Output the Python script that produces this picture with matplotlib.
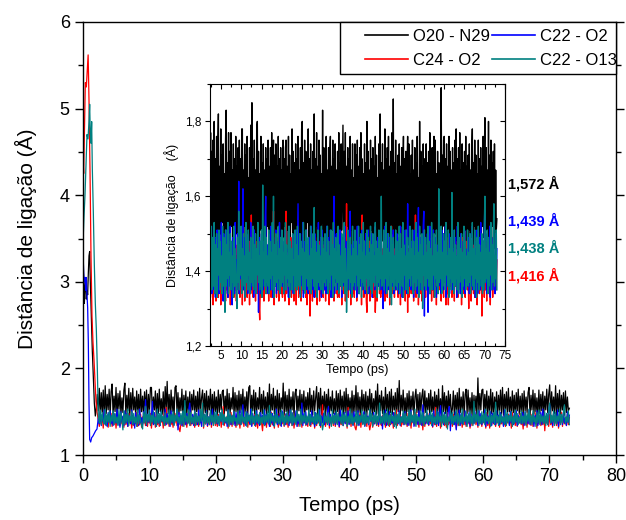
import numpy as np
import matplotlib
matplotlib.use('Agg')
import matplotlib.pyplot as plt
from matplotlib.ticker import MultipleLocator, FuncFormatter
from matplotlib.patches import Rectangle

plt.rcParams['font.family'] = ['Liberation Sans', 'DejaVu Sans']
NARROW = ['Liberation Sans Narrow', 'Liberation Sans', 'DejaVu Sans']

# ---------------- data ----------------
labels = ['O20 - N29', 'C22 - O2', 'C24 - O2', 'C22 - O13']
colors = ['#000000', '#0000FF', '#FF0000', '#008080']
mean_labels = ['1,572 Å', '1,439 Å', '1,438 Å', '1,416 Å']

# initial transient (0 - 2.3 ps), bond length in Å
tr_t_black = [0, 0.1, 0.2, 0.3, 0.4, 0.5, 0.6, 0.7, 0.8, 0.9, 1.0, 1.1, 1.25, 1.4, 1.55, 1.7, 1.85, 2.0, 2.15]
tr_black = [3.50, 3.00, 2.75, 2.95, 3.05, 2.80, 2.90, 2.85, 3.10, 3.30, 3.35, 3.00, 2.60, 2.20, 1.90, 1.60, 1.45, 1.55, 1.70]
tr_t_blue = [0, 0.1, 0.2, 0.3, 0.4, 0.5, 0.6, 0.7, 0.8, 0.9, 1.0, 1.15, 1.3, 1.5, 1.7, 1.9, 2.1]
tr_blue = [3.35, 3.10, 3.00, 3.05, 2.90, 3.05, 2.85, 2.70, 2.30, 1.60, 1.18, 1.15, 1.20, 1.22, 1.25, 1.28, 1.30]
tr_t_red = [0, 0.1, 0.2, 0.35, 0.5, 0.65, 0.77, 0.9, 1.05, 1.2, 1.35, 1.5, 1.65, 1.8, 1.95, 2.1]
tr_red = [4.41, 4.25, 4.70, 5.30, 5.25, 5.45, 5.62, 5.10, 4.30, 3.30, 2.60, 2.30, 2.10, 1.85, 1.62, 1.50]
tr_t_teal = [0, 0.15, 0.3, 0.45, 0.6, 0.75, 0.9, 1.0, 1.1, 1.2, 1.3, 1.4, 1.55, 1.7, 1.85, 2.0, 2.15]
tr_teal = [3.45, 3.75, 4.00, 4.35, 4.70, 4.65, 4.85, 5.05, 4.70, 4.60, 4.85, 4.30, 3.80, 3.20, 2.75, 2.45, 2.00]

# equilibrated part (2.3 - 73 ps), bond length in pm (1 Å = 100 pm)
black_pm = [
    151,177,146,172,149,175,144,180,148,170,152,176,145,173,182,147,168,150,178,144,171,153,174,147,
    166,149,175,183,146,169,151,177,144,172,148,177,152,167,145,174,149,170,143,176,150,168,147,173,
    151,175,145,170,149,178,178,146,167,152,174,144,171,148,176,150,165,147,173,145,179,151,185,148,
    170,146,175,150,167,144,178,180,149,172,147,166,151,176,144,169,152,174,146,167,149,173,145,170,
    152,175,147,168,150,173,144,177,151,166,175,146,171,149,174,145,168,152,176,147,170,144,173,150,
    167,146,175,149,170,152,173,175,145,168,151,176,144,171,148,166,153,178,146,172,150,169,145,174,
    149,170,152,176,145,167,150,173,147,178,180,144,169,151,175,146,172,149,166,153,178,145,170,148,
    174,151,167,146,172,149,182,145,170,152,177,147,168,150,175,144,171,148,166,153,183,146,173,150,
    169,145,176,149,167,152,173,144,171,176,147,168,151,175,146,170,149,174,145,167,152,172,147,177,
    150,169,146,174,151,166,179,145,172,149,177,147,168,152,173,144,170,150,176,146,167,151,174,148,
    165,147,174,150,171,144,175,152,168,146,173,149,177,145,170,151,166,148,174,146,169,150,180,147,
    172,149,167,145,175,151,170,147,173,144,168,152,176,148,171,146,165,150,174,147,182,145,169,151,
    174,148,167,146,178,151,170,145,173,149,176,147,168,152,172,144,177,150,186,146,169,151,175,148,
    166,145,171,150,174,147,168,152,173,146,167,176,149,170,144,172,151,168,176,147,174,149,166,152,
    171,146,175,150,167,144,173,151,169,147,176,149,165,145,180,150,172,148,168,146,174,151,170,147,
    153,174,146,169,151,172,145,177,149,167,152,173,144,170,176,148,175,150,166,147,172,145,169,151,
    168,146,189,149,171,152,175,176,147,170,151,174,145,168,150,176,148,172,144,167,152,173,146,169,
    151,175,148,178,146,170,152,173,145,177,150,167,147,174,149,169,144,172,151,176,147,168,150,171,
    146,174,151,167,149,172,178,145,169,152,175,147,171,150,166,144,175,148,170,151,173,146,168,152,
    176,149,170,181,146,173,151,167,148,180,145,171,150,175,147,169,152,172,146,174,149,167,151,154]
blue_pm = [
    143,136,150,134,147,139,152,135,145,133,149,138,151,136,144,134,148,140,137,153,135,146,132,150,
    138,145,134,151,137,148,133,146,140,136,152,135,144,131,149,138,147,134,153,137,143,135,150,139,
    164,134,147,138,151,136,144,162,135,149,140,133,152,137,146,134,150,139,143,136,153,135,148,138,
    145,133,151,137,147,135,144,140,152,129,149,136,146,134,150,138,143,135,148,137,153,160,142,136,
    147,134,150,138,145,135,152,137,143,133,149,140,146,136,151,134,144,138,148,135,153,137,142,139,
    150,136,144,134,148,139,151,135,146,137,143,133,152,138,147,135,145,140,150,134,149,137,144,136,
    151,135,147,158,137,144,134,150,139,146,136,153,133,148,138,145,135,151,137,143,134,149,140,146,
    136,152,135,147,138,144,133,150,137,148,134,146,139,153,135,145,136,149,133,151,138,143,135,148,
    139,146,134,152,137,149,135,144,138,151,133,147,136,145,140,160,134,148,137,150,135,143,139,147,
    135,151,138,144,133,149,136,146,139,152,134,145,137,148,135,143,138,150,156,134,147,136,144,139,
    148,135,150,137,144,133,152,138,146,134,149,136,143,139,151,135,145,137,148,134,150,138,144,136,
    151,134,146,138,143,136,150,133,148,137,145,135,152,139,144,134,149,136,147,138,143,135,151,137,
    144,130,148,136,152,134,146,138,150,135,143,137,149,133,147,139,145,136,151,134,144,138,148,135,
    150,137,143,134,149,136,152,138,145,133,147,139,144,135,151,136,146,134,158,138,143,136,150,137,
    135,148,139,146,133,151,137,144,136,150,134,147,157,138,145,135,149,136,143,139,152,156,128,147,
    137,144,135,150,129,146,138,152,134,148,136,143,139,151,135,145,137,149,133,147,138,144,136,150,
    139,146,134,151,137,148,135,143,138,152,133,147,136,145,140,150,134,148,137,144,135,151,138,146,
    135,149,138,144,133,152,136,147,139,145,134,150,137,143,135,148,138,151,134,146,137,144,136,149,
    147,134,150,138,145,136,152,135,143,139,148,133,146,137,151,134,144,138,149,135,153,137,145,136,
    148,135,151,158,137,144,134,150,138,146,136,152,133,147,139,145,135,149,137,143,134,150,138,146]
red_pm = [
    140,133,147,136,144,131,149,138,134,146,132,143,137,148,133,141,135,147,131,145,138,142,134,146,
    136,144,132,147,135,142,133,148,137,140,131,146,134,143,136,149,133,141,135,147,132,144,137,140,
    134,146,133,143,137,148,131,142,136,145,132,147,135,140,133,146,138,143,131,148,134,155,136,142,
    133,146,135,141,132,144,137,148,134,140,131,127,136,143,133,147,135,141,132,145,137,149,134,142,
    136,145,132,148,135,140,133,146,137,143,156,131,144,136,147,133,141,135,149,132,143,137,146,134,
    142,133,147,136,144,132,148,156,134,141,137,145,131,143,135,149,133,146,136,140,132,147,135,143,
    131,145,136,148,133,141,137,146,132,144,135,149,134,140,136,147,133,143,131,146,135,142,137,128,
    145,134,141,132,147,136,143,133,149,135,140,131,146,137,144,132,148,134,142,136,145,133,147,135,
    141,132,146,137,143,134,148,131,144,136,147,133,140,135,149,132,143,137,146,134,141,133,148,136,
    133,145,136,142,131,147,134,144,137,149,132,141,158,135,146,133,143,136,148,131,145,137,142,134,
    146,133,144,136,148,132,141,135,147,134,143,137,145,131,155,136,142,133,148,135,144,132,129,137,
    143,135,148,132,146,136,141,134,149,133,144,137,129,135,147,132,143,136,145,134,141,133,148,136,
    134,146,137,143,132,148,135,141,133,147,136,144,131,149,135,152,134,142,137,146,133,143,135,147,
    136,142,133,148,135,144,131,146,137,143,134,149,136,141,132,147,135,144,129,146,133,142,137,148,
    134,145,136,141,132,147,135,155,133,144,136,148,131,142,137,146,134,143,132,149,135,141,136,145,
    133,147,136,142,130,148,134,144,137,146,132,141,135,149,133,143,136,147,131,145,134,142,137,146,
    135,143,132,148,136,141,133,146,137,144,131,149,134,142,131,147,135,143,136,148,133,141,137,145,
    132,146,136,143,134,148,133,141,137,147,135,144,131,149,136,142,134,146,133,143,137,148,135,141,
    130,146,135,143,132,148,136,141,134,147,133,144,137,149,131,142,136,146,134,143,135,148,128,144,
    137,143,133,147,135,141,132,148,136,144,134,146,131,142,137,149,133,145,136,141,134,147,135,143]
teal_pm = [
    145,137,152,135,149,140,136,153,134,147,138,150,133,146,139,151,135,148,137,144,134,152,136,149,
    140,129,151,136,147,138,153,134,145,139,150,135,148,137,144,133,152,136,146,140,134,130,149,137,
    156,135,147,139,152,134,146,138,150,136,144,133,153,137,148,135,151,139,145,134,149,137,143,136,
    152,135,147,138,150,134,146,139,153,137,144,135,148,136,151,133,163,138,145,136,152,134,149,137,
    144,136,151,134,148,138,145,135,153,139,160,133,147,136,150,137,144,135,152,138,146,134,149,136,
    151,137,145,134,149,139,153,135,147,138,144,136,152,133,148,137,146,135,150,139,143,134,151,136,
    147,135,152,138,144,136,150,133,148,139,146,135,153,137,145,134,151,138,147,136,149,135,144,137,
    152,134,146,138,150,136,157,135,148,139,145,133,151,137,147,136,144,135,152,138,149,134,146,137,
    150,136,145,138,152,134,148,137,144,135,151,139,147,133,153,136,146,138,149,135,145,137,152,134,
    147,138,144,136,150,135,148,137,153,134,146,139,129,136,151,138,145,135,149,137,144,133,152,136,
    146,137,151,135,148,139,144,136,152,134,147,138,150,133,145,137,153,136,148,135,144,138,151,134,
    149,136,145,138,152,135,147,134,150,137,144,136,153,139,148,133,146,137,151,135,145,138,160,136,
    144,137,151,135,148,138,153,134,146,136,150,139,145,133,152,131,147,137,149,135,144,138,151,136,
    148,135,145,137,152,134,150,138,146,136,153,133,147,139,144,135,151,137,149,134,145,138,152,136,
    146,139,151,134,148,137,144,135,153,136,149,138,145,133,152,137,147,135,150,130,144,139,151,136,
    149,135,145,138,152,136,148,134,146,137,153,135,144,139,150,133,147,138,151,136,145,134,162,137,
    147,138,152,134,145,136,150,137,148,135,153,139,144,136,151,133,146,138,149,135,161,137,145,134,
    151,136,147,138,144,135,153,134,149,137,146,139,150,133,145,136,152,138,148,135,144,137,151,136,
    145,137,150,134,148,139,153,136,146,135,151,138,144,133,149,137,152,135,147,138,145,136,150,134,
    148,135,152,160,137,146,138,151,134,149,136,145,139,153,135,147,137,150,158,136,144,138,151,135]


def build(tr_t, tr_v, eq_pm):
    t_eq = np.linspace(2.3, 73.0, len(eq_pm))
    return np.r_[tr_t, t_eq], np.r_[tr_v, np.asarray(eq_pm) / 100.0]


series = [  # drawing order: black, red, blue, teal
    ('O20 - N29', *build(tr_t_black, tr_black, black_pm), '#000000'),
    ('C24 - O2', *build(tr_t_red, tr_red, red_pm), '#FF0000'),
    ('C22 - O2', *build(tr_t_blue, tr_blue, blue_pm), '#0000FF'),
    ('C22 - O13', *build(tr_t_teal, tr_teal, teal_pm), '#008080'),
]

# ---------------- figure ----------------
W, H = 626, 520
fig = plt.figure(figsize=(W / 100, H / 100), dpi=100)
ax = fig.add_axes([83 / W, 1 - 455 / H, (616 - 83) / W, (455 - 22) / H])

for name, t, y, c in series:
    ax.plot(t, y, color=c, lw=0.9, label=name)

ax.set_xlim(0, 80)
ax.set_ylim(1, 6)
ax.xaxis.set_major_locator(MultipleLocator(10))
ax.xaxis.set_minor_locator(MultipleLocator(5))
ax.yaxis.set_major_locator(MultipleLocator(1))
ax.yaxis.set_minor_locator(MultipleLocator(0.5))
ax.tick_params(which='both', direction='out', labelsize=13, width=1, right=True)
ax.tick_params(which='major', length=6)
ax.tick_params(which='minor', length=3.5)
for s in ax.spines.values():
    s.set_linewidth(1)
ax.set_xlabel('Tempo (ps)', fontsize=14.5, labelpad=8)
ax.set_ylabel('Distância de ligação (Å)', fontsize=15, labelpad=16)

# legend: frame drawn as rectangle sharing the axes' top/right spines
fig.add_artist(Rectangle((340 / W, 1 - 74 / H), (616 - 340) / W, (74 - 22) / H,
                         transform=fig.transFigure, fill=True, facecolor='white',
                         edgecolor='black', lw=1, zorder=5))
handles = [plt.Line2D([], [], color=c, lw=1.2) for _, _, _, c in series]
leg = fig.legend(handles, [s[0] for s in series], loc='upper left',
                 bbox_to_anchor=(365 / W, 1 - 29 / H), ncol=2,
                 fontsize=12, frameon=False,
                 handlelength=2.6, handletextpad=0.3, columnspacing=0.1,
                 labelspacing=0.55, borderpad=0, borderaxespad=0)
leg.set_zorder(6)

# ---------------- inset ----------------
axi = fig.add_axes([210 / W, 1 - 346 / H, (505 - 210) / W, (346 - 84) / H])
for name, t, y, c in series:
    axi.plot(t, y, color=c, lw=1.0)
axi.set_xlim(2.3, 75)
axi.set_ylim(1.2, 1.9)
axi.xaxis.set_major_locator(MultipleLocator(5))
axi.xaxis.set_minor_locator(MultipleLocator(2.5))
axi.yaxis.set_major_locator(MultipleLocator(0.2))
axi.yaxis.set_minor_locator(MultipleLocator(0.1))
axi.yaxis.set_major_formatter(FuncFormatter(lambda v, p: f'{v:.1f}'.replace('.', ',')))
axi.xaxis.set_major_formatter(FuncFormatter(lambda v, p: f'{v:.0f}' if v >= 5 else ''))
axi.tick_params(axis='x', which='both', direction='in', top=True, width=0.8)
axi.tick_params(axis='y', which='both', direction='out', width=0.8)
axi.tick_params(which='major', length=3.5, pad=3)
axi.tick_params(which='minor', length=2)
for lab in axi.get_xticklabels() + axi.get_yticklabels():
    lab.set_family(NARROW)
    lab.set_fontsize(8.5)
axi.set_xlabel('Tempo (ps)', fontsize=9, labelpad=1, family=NARROW)
axi.set_ylabel('Distância de ligação    (Å)', fontsize=9, labelpad=4, family=NARROW)
axr = axi.secondary_yaxis('right')
axr.yaxis.set_major_locator(MultipleLocator(0.2))
axr.yaxis.set_minor_locator(MultipleLocator(0.1))
axr.tick_params(which='both', direction='in', labelright=False, width=0.8)
axr.tick_params(which='major', length=3.5)
axr.tick_params(which='minor', length=2)

ypos = [184, 221, 248, 276]
for txt, c, yp in zip(mean_labels, ['#000000', '#0000FF', '#008080', '#FF0000'], ypos):
    fig.text(508 / W, 1 - yp / H, txt, color=c, fontsize=10.5, fontweight='bold',
             ha='left', va='center')

fig.savefig('out.png', dpi=100)
